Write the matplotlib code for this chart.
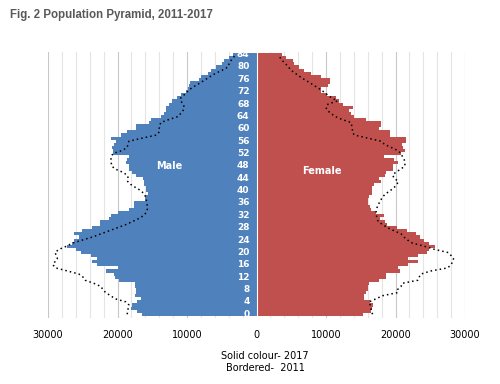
import numpy as np
import matplotlib.pyplot as plt
from matplotlib import font_manager

# Single-year ages 0..84
ages = list(range(85))

# 2017 population (solid bars), age 0 first
male_2017 = [16500, 17150, 18100, 17850, 17150, 16650, 17450, 17400, 17400, 17450,
             17450, 19800, 20350, 20500, 21700, 20000, 22900, 23600, 22900, 23850,
             25300, 26000, 27300, 26500, 26250, 25550, 26250, 25050, 23600, 22550,
             22550, 21200, 21000, 19900, 18350, 17600, 17600, 16050, 16050, 15600,
             15850, 15950, 16200, 16200, 16400, 17400, 17850, 18350, 18350, 18800,
             18600, 18350, 20650, 20700, 20800, 20500, 20200, 21000, 19550, 18600,
             17400, 17300, 15450, 15200, 13800, 13300, 13050, 13050, 12600, 12100,
             11400, 10900, 10200, 9800, 9700, 9550, 8250, 8000, 7050, 6600,
             5850, 5000, 4650, 3900, 3360]
female_2017 = [15350, 16450, 16550, 16700, 16350, 15500, 15500, 15750, 16000, 16000,
               16200, 17650, 18600, 18600, 20700, 20300, 21750, 23300, 21850, 23200,
               24600, 24850, 25750, 24850, 24150, 23550, 22950, 21650, 20200, 18750,
               18550, 17800, 18400, 17200, 16450, 16300, 16000, 16000, 16200, 16550,
               16550, 16550, 16950, 17900, 17650, 18500, 18600, 19600, 19700, 20300,
               19800, 18400, 20800, 21400, 21150, 20900, 21500, 21500, 19250, 19250,
               17650, 17900, 17900, 15750, 14050, 13600, 13350, 13900, 12500, 11900,
               11400, 10100, 9250, 9250, 10300, 10600, 10600, 9250, 7800, 6850,
               6150, 5400, 5200, 4200, 3600]

# 2011 population (dotted outline), age 0 first
male_2011 = [18600, 18550, 18450, 18350, 18800, 20350, 21000, 21700, 22100, 22400,
             23400, 24650, 24950, 25550, 27200, 28900, 29300, 29000, 28650, 28800,
             29000, 28400, 27350, 26500, 25050, 23600, 22400, 21200, 20000, 18800,
             17850, 16900, 16200, 15850, 15700, 15700, 15800, 15850, 15950, 16200,
             16650, 17400, 18100, 18550, 18450, 18600, 19300, 20350, 20850, 20900,
             20950, 20900, 20650, 19300, 18600, 18500, 18350, 16400, 14350, 14000,
             14000, 13900, 13800, 12600, 11250, 10900, 10550, 10400, 10550, 10900,
             10900, 10400, 9950, 9450, 8750, 8000, 7300, 6600, 5850, 4900,
             4100, 3950, 3700, 3350, 3000]
female_2011 = [16700, 16550, 16450, 16350, 16200, 17200, 18150, 20300, 20300, 20800,
               20950, 23200, 23400, 23650, 25100, 27500, 28000, 28200, 28350, 28000,
               27500, 25600, 24150, 22450, 21750, 21200, 20800, 19800, 18850, 18150,
               17500, 17350, 17250, 17200, 17300, 17400, 17650, 17900, 18150, 18600,
               19250, 19800, 20200, 20400, 19800, 19600, 20050, 20800, 21350, 21350,
               21250, 21000, 20800, 20300, 19350, 18400, 17900, 16000, 14050, 13800,
               13800, 13700, 13600, 12350, 11300, 10700, 10150, 10000, 10300, 11650,
               10800, 10200, 9650, 9000, 8300, 7600, 6850, 6150, 5550, 4950,
               4600, 4200, 3750, 3400, 3100]

x_ticks = [-30000, -20000, -10000, 0, 10000, 20000, 30000]
x_labels = ['30000', '20000', '10000', '0', '10000', '20000', '30000']
age_labels = list(range(0, 85, 4))

# title font: a narrow face if one is installed
names = {f.name for f in font_manager.fontManager.ttflist}
title_family = 'Liberation Sans'
for cand in ['Liberation Sans Narrow', 'DejaVu Sans Condensed']:
    if cand in names:
        title_family = cand
        break

fig = plt.figure(figsize=(5, 3.84), dpi=100)
ax = fig.add_axes([0.096, 0.172, 0.834, 0.693])

# Gridlines every 2000, stronger every 10000
for g in range(-30000, 30001, 2000):
    c = '#c8c8c8' if g % 10000 == 0 else '#e4e4e4'
    ax.axvline(g, color=c, lw=0.8, zorder=0)

ax.barh(ages, [-v for v in male_2017], height=1.0, color='#4f81bd', zorder=2)
ax.barh(ages, female_2017, height=1.0, color='#c0504d', zorder=2)
ax.axvline(0, color='white', lw=0.8, zorder=3)

ax.plot([-v for v in male_2011], ages, color='black', ls=(0, (1, 2)), lw=1.1, zorder=4)
ax.plot(female_2011, ages, color='black', ls=(0, (1, 2)), lw=1.1, zorder=4)

for a in age_labels:
    ax.text(-1000, a, str(a), color='white', fontsize=6.5, fontweight='bold',
            ha='right', va='center', zorder=5)

ax.text(-12600, 48, 'Male', color='white', fontsize=7, fontweight='bold',
        ha='center', va='center', zorder=5)
ax.text(9400, 46.5, 'Female', color='white', fontsize=7, fontweight='bold',
        ha='center', va='center', zorder=5)

ax.set_xlim(-30000, 30000)
ax.set_ylim(-1.2, 84.9)
ax.set_xticks(x_ticks)
ax.set_xticklabels(x_labels, fontsize=7)
ax.set_yticks([])
ax.tick_params(axis='x', length=0, pad=9)
for s in ['left', 'right', 'top', 'bottom']:
    ax.spines[s].set_visible(False)

title = fig.text(0.02, 0.962, 'Fig. 2 Population Pyramid, 2011-2017',
                 fontsize=9.5, color='#595959', fontweight='bold',
                 ha='left', va='center', family=title_family)
if title_family == 'Liberation Sans':
    title.set_fontsize(8.3)
fig.text(0.53, 0.073, 'Solid colour- 2017', fontsize=7, ha='center', va='center')
fig.text(0.53, 0.041, 'Bordered-  2011', fontsize=7, ha='center', va='center')

plt.savefig('out.png')
